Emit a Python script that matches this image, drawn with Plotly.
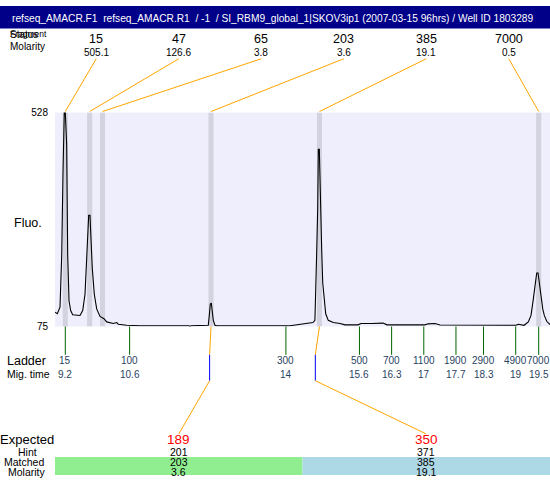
import plotly.graph_objects as go

# ---------------- data ----------------
title_text = ("refseq_AMACR.F1\u00a0\u00a0refseq_AMACR.R1\u00a0\u00a0/\u00a0-1\u00a0\u00a0/\u00a0"
              "SI_RBM9_global_1|SKOV3ip1\u00a0(2007-03-15\u00a096hrs)\u00a0/\u00a0Well\u00a0ID\u00a01803289")

trace_time = [8.976, 9.026, 9.085, 9.122, 9.150, 9.178, 9.200, 9.230, 9.252, 9.281,
              9.317, 9.361, 9.520, 9.579, 9.629, 9.666, 9.687, 9.709, 9.737, 9.759,
              9.787, 9.831, 9.883, 9.955, 10.042, 10.101, 10.244, 10.318, 10.353, 10.536,
              10.825, 11.891, 11.913, 11.935, 12.311, 12.333, 12.355, 12.377, 12.398, 12.420,
              12.457, 12.494, 14.089, 14.415, 14.589, 14.631, 14.655, 14.670, 14.692, 14.705,
              14.727, 14.748, 14.779, 14.801, 14.829, 14.866, 14.922, 15.031, 15.177, 15.286,
              15.569, 15.634, 15.873, 16.113, 16.200, 17.027, 17.092, 17.245, 17.353, 19.007,
              19.057, 19.181, 19.274, 19.333, 19.383, 19.420, 19.457, 19.486, 19.514, 19.551,
              19.588, 19.622, 19.675, 19.746]
trace_fluo = [105.4, 101.9, 115.8, 226.0, 401.9, 528.0, 528.0, 460.4, 226.0, 129.4,
              108.7, 99.8, 98.4, 108.7, 143.3, 212.2, 267.4, 310.2, 310.2, 260.6,
              198.5, 143.3, 112.2, 96.3, 91.5, 84.7, 81.2, 83.3, 79.8, 77.7,
              76.4, 76.4, 75.0, 76.4, 77.7, 98.4, 122.6, 124.6, 108.7, 88.0,
              77.7, 76.4, 76.4, 81.2, 83.3, 88.0, 153.6, 232.8, 325.9, 450.1,
              450.1, 346.6, 236.4, 167.5, 132.9, 101.9, 88.0, 83.3, 81.2, 78.5,
              78.5, 81.2, 81.2, 82.2, 78.5, 78.5, 80.6, 81.2, 78.1, 77.5,
              79.6, 77.5, 84.7, 98.4, 132.9, 160.4, 188.2, 188.2, 170.8, 139.8,
              112.2, 98.4, 86.0, 79.1]

frag_sizes = ["15", "47", "65", "203", "385", "7000"]
frag_molarity = ["505.1", "126.6", "3.8", "3.6", "19.1", "0.5"]
frag_time = [9.2, 9.73, 10.01, 12.37, 14.73, 19.5]

ladder_sizes = ["15", "100", "300", "500", "700", "1100", "1900", "2900", "4900", "7000"]
ladder_time = [9.2, 10.6, 14, 15.6, 16.3, 17, 17.7, 18.3, 19, 19.5]

expected_sizes = ["189", "350"]
hint_sizes = ["201", "371"]
matched_sizes = ["203", "385"]
matched_molarity = ["3.6", "19.1"]
matched_peak_time = [12.37, 14.73]
hint_time = [12.34, 14.64]

y_ticks = [75, 528]

# ---------------- layout helpers ----------------
W, H = 550, 480
PL, PR, PT, PB = 55, 550, 109, 328
X_RANGE = [8.976, 19.746]
FONT = "Liberation Sans, Arial, sans-serif"
ORANGE = "#FFA500"


def px(x):
    return x / W


def py(y):
    return 1 - y / H


XD = [px(PL), px(PR)]
YD = [py(PB), py(PT)]


def t2paper(t):
    return XD[0] + (t - X_RANGE[0]) / (X_RANGE[1] - X_RANGE[0]) * (XD[1] - XD[0])


fig = go.Figure()
fig.add_trace(go.Scatter(x=trace_time, y=trace_fluo, mode="lines",
                         line=dict(color="black", width=1.1), hoverinfo="skip",
                         showlegend=False))

shapes = []
ann = []


def text(x, y, s, size, color="black", xanchor="center"):
    ann.append(dict(x=x, y=y, xref="paper", yref="paper", text=s, showarrow=False,
                    xanchor=xanchor, yanchor="middle",
                    font=dict(family=FONT, size=size, color=color)))


def seg(x0, y0, x1, y1, color, width=1):
    shapes.append(dict(type="line", xref="paper", yref="paper", x0=x0, y0=y0, x1=x1, y1=y1,
                       line=dict(color=color, width=width)))


# title bar
shapes.append(dict(type="rect", xref="paper", yref="paper", x0=0, x1=1, y0=py(23), y1=1,
                   fillcolor="#000088", line=dict(width=0), layer="below"))
text(px(10), py(13), title_text, 10.2, "white", "left")

# peak bands
bw = 0.11
for t in frag_time:
    shapes.append(dict(type="rect", xref="x", yref="y", x0=t - bw / 2, x1=t + bw / 2,
                       y0=y_ticks[0], y1=y_ticks[1], fillcolor="#D3D3DF",
                       line=dict(width=0), layer="below"))

# fragment header
text(px(8), py(29), "Fragment", 8.5, "black", "left")
text(px(8), py(29), "Status", 10, "black", "left")
text(px(8), py(41), "Molarity", 10, "black", "left")
n = len(frag_sizes)
colw = (XD[1] - XD[0]) / n
for i in range(n):
    cx = XD[0] + colw * (i + 0.5)
    text(cx, py(34), frag_sizes[i], 12.5)
    text(cx, py(48), frag_molarity[i], 10)
    seg(cx, py(54), t2paper(frag_time[i]), py(PT - 1), ORANGE)

# fluo label
text(px(12), py(222), "Fluo.", 12.5, "black", "left")

# ladder
text(px(5), py(363), "Ladder", 12.5, "black", "left")
text(px(5), py(377), "Mig.\u00a0time", 10.5, "black", "left")
for s, t in zip(ladder_sizes, ladder_time):
    shapes.append(dict(type="line", xref="x", yref="paper", x0=t, x1=t, y0=py(PB), y1=py(357),
                       line=dict(color="#006400", width=1)))
    ann.append(dict(x=t, y=py(363), xref="x", yref="paper", text=s, showarrow=False,
                    xanchor="center", yanchor="middle", font=dict(family=FONT, size=10)))
    ann.append(dict(x=t, y=py(377), xref="x", yref="paper", text=f"{t:g}", showarrow=False,
                    xanchor="center", yanchor="middle", font=dict(family=FONT, size=10)))

# expected table
m = len(expected_sizes)
ecw = (XD[1] - XD[0]) / m
box_colors = ["#90EE90", "#ADD8E6"]
for j in range(m):
    x0 = XD[0] + ecw * j
    x1 = x0 + ecw
    cx = (x0 + x1) / 2
    shapes.append(dict(type="rect", xref="paper", yref="paper", x0=x0, x1=x1, y0=0, y1=py(461.5),
                       fillcolor=box_colors[j], line=dict(width=0), layer="below"))
    text(cx, py(444), expected_sizes[j], 13.5, "#FF0000")
    text(cx, py(456), hint_sizes[j], 10.5)
    text(cx, py(467), matched_sizes[j], 10.5)
    text(cx, py(477), matched_molarity[j], 10.5)
    # connectors
    seg(t2paper(matched_peak_time[j]), py(PB), t2paper(hint_time[j]), py(357), ORANGE)
    seg(t2paper(hint_time[j]), py(357), t2paper(hint_time[j]), py(383.5), "#0000FF")
    seg(t2paper(hint_time[j]), py(383.5), cx, py(438), ORANGE)

text(px(27), py(444), "Expected", 13)
text(px(27), py(456), "Hint", 10.5)
text(px(24), py(467), "Matched", 10.5)
text(px(27), py(477), "Molarity", 10.5)

fig.update_layout(
    width=W, height=H, margin=dict(l=0, r=0, t=0, b=0),
    paper_bgcolor="white", plot_bgcolor="#EEEEFC",
    showlegend=False,
    xaxis=dict(domain=XD, range=X_RANGE, visible=False, showgrid=False, zeroline=False),
    yaxis=dict(domain=YD, range=[y_ticks[0], y_ticks[1]], tickvals=y_ticks,
               ticktext=[str(v) for v in y_ticks], showgrid=False, zeroline=False,
               showline=False, ticks="", ticklabelstandoff=6,
               tickfont=dict(family=FONT, size=10, color="black")),
    shapes=shapes, annotations=ann,
)

fig.write_html(
    "out.html",
    config={"displayModeBar": False},
    post_script=(
        "var d=document.documentElement,b=document.body;"
        "d.style.margin='0';d.style.padding='0';d.style.overflow='hidden';"
        "b.style.margin='0';b.style.padding='0';b.style.overflow='hidden';"
        "var g=document.getElementById('{plot_id}');g.style.display='block';"
        "var ww=window.innerWidth,hh=window.innerHeight;"
        "g.style.width=ww+'px';g.style.height=hh+'px';"
        "Plotly.relayout(g,{width:ww,height:hh});"
    ),
)
